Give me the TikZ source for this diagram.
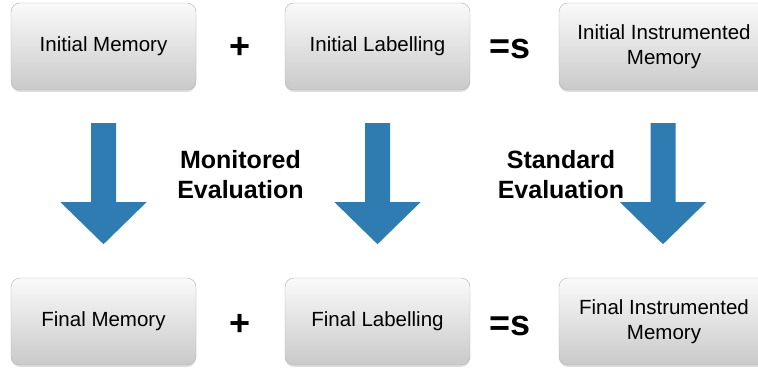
\documentclass[tikz,border=0pt]{standalone}
\usepackage{fontspec}
\setmainfont{Liberation Sans}
\usetikzlibrary{positioning,shadows}

\definecolor{flowblue}{RGB}{47,124,178}
\definecolor{boxline}{RGB}{178,178,178}

\tikzset{
  memory/.style={rounded corners=9pt, draw=boxline, top color=gray!4, bottom color=gray!42,
    minimum width=185pt, minimum height=87pt, align=center,
    font=\fontsize{20.5}{25}\selectfont,
    drop shadow={opacity=0.25, shadow xshift=0pt, shadow yshift=-2pt}},
  widememory/.style={memory, minimum width=210pt},
  op/.style={font=\fontsize{36}{36}\selectfont\bfseries},
  evaltext/.style={align=center, font=\fontsize{25}{30}\selectfont\bfseries},
  flowarrow/.pic={
    \fill[flowblue] (-12.5,0) -- (12.5,0) -- (12.5,-79) -- (43,-79)
      -- (0,-121) -- (-43,-79) -- (-12.5,-79) -- cycle;
  }
}

\begin{document}
\begin{tikzpicture}[x=1pt,y=1pt,on grid]
    \useasboundingbox (0,0) rectangle (758,367);
    % initial state
    \node[memory]     (im)  at (103.5,320.5)     {Initial Memory};
    \node[memory]     (il)  [right=274pt of im]  {Initial Labelling};
    \node[widememory] (iim) [right=286.5pt of il] {Initial Instrumented\\Memory};
    % final state
    \node[memory]     (fm)  [below=275pt of im]  {Final Memory};
    \node[memory]     (fl)  [below=275pt of il]  {Final Labelling};
    \node[widememory] (fim) [below=275pt of iim] {Final Instrumented\\Memory};
    % operators
    \node[op] (plus_i) at (240.5,319) {+};
    \node[op] (eq_i)   at (510,318)   {=s};
    \node[op] (plus_f) at (240.5,42)  {+};
    \node[op] (eq_f)   at (510,41)    {=s};
    % evaluations
    \path (im.south)  ++(0,-33) pic {flowarrow};
    \path (il.south)  ++(0,-33) pic {flowarrow};
    \path (iim.south) ++(-1,-33) pic {flowarrow};
    \node[evaltext] (mon) [below=127pt of plus_i] {Monitored\\Evaluation};
    \node[evaltext] (std) at (561,192) {Standard\\Evaluation};
\end{tikzpicture}
\end{document}
